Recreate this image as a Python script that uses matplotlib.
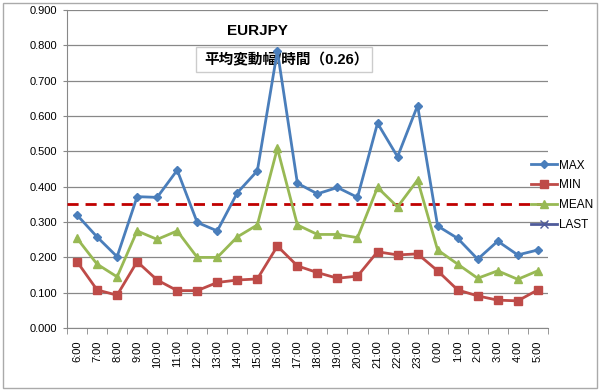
import matplotlib
matplotlib.use("Agg")
import matplotlib.pyplot as plt
from matplotlib.lines import Line2D
from matplotlib.patches import Rectangle

plt.rcParams["font.family"] = ["Liberation Sans", "Noto Sans CJK JP", "DejaVu Sans"]

# Data
hours = ["6:00", "7:00", "8:00", "9:00", "10:00", "11:00", "12:00", "13:00",
         "14:00", "15:00", "16:00", "17:00", "18:00", "19:00", "20:00", "21:00",
         "22:00", "23:00", "0:00", "1:00", "2:00", "3:00", "4:00", "5:00"]
max_vals = [0.320, 0.258, 0.202, 0.372, 0.370, 0.447, 0.299, 0.275,
            0.383, 0.445, 0.785, 0.410, 0.380, 0.398, 0.370, 0.580,
            0.485, 0.630, 0.289, 0.254, 0.195, 0.246, 0.207, 0.221]
min_vals = [0.188, 0.108, 0.093, 0.188, 0.136, 0.106, 0.106, 0.129,
            0.136, 0.139, 0.232, 0.176, 0.157, 0.141, 0.147, 0.216,
            0.207, 0.210, 0.162, 0.108, 0.091, 0.079, 0.077, 0.108]
mean_vals = [0.254, 0.181, 0.145, 0.275, 0.251, 0.275, 0.200, 0.200,
             0.258, 0.292, 0.509, 0.292, 0.265, 0.265, 0.256, 0.398,
             0.343, 0.419, 0.221, 0.181, 0.141, 0.162, 0.138, 0.162]
threshold = 0.35

fig = plt.figure(figsize=(6.0, 3.91), dpi=100)
ax = fig.add_axes([0.1117, 0.161, 0.8013, 0.813])

x = range(len(hours))
ax.plot(x, max_vals, color="#4A7EBB", lw=2, marker="D", ms=4, zorder=4)
ax.plot(x, min_vals, color="#BE4B48", lw=2, marker="s", ms=5.5, zorder=4)
ax.plot(x, mean_vals, color="#98B954", lw=2, marker="^", ms=6, zorder=4)
ax.axhline(threshold, xmin=0, xmax=0.985, color="#C00000", lw=2, ls=(0, (4, 2.5)), zorder=3)

ax.set_xlim(-0.5, len(hours) - 0.5)
ax.set_ylim(0, 0.9)
ax.set_yticks([i / 10 for i in range(10)])
ax.set_yticklabels([f"{i / 10:.3f}" for i in range(10)], fontsize=8)
ax.set_xticks(list(x))
ax.set_xticklabels(hours, rotation=90, fontsize=8)
ax.set_xticks([i - 0.5 for i in range(len(hours) + 1)], minor=True)
ax.tick_params(axis="x", which="major", length=0, pad=9)
ax.tick_params(axis="x", which="minor", length=4, color="#888888")
ax.tick_params(axis="y", length=3, color="#888888", pad=4)
ax.grid(axis="y", color="#888888", lw=0.9, zorder=0)
for side in ["top", "right"]:
    ax.spines[side].set_visible(False)
for side in ["left", "bottom"]:
    ax.spines[side].set_color("#888888")

# Title and annotation box (box sits under the data lines)
fig.text(257 / 600, 1 - 31 / 391, "EURJPY", fontsize=11, fontweight="bold",
         ha="center", va="center")
ax.add_patch(Rectangle((196 / 600, 1 - 72 / 391), 176 / 600, 25 / 391,
                       transform=fig.transFigure, facecolor="white",
                       edgecolor="#CCCCCC", lw=1, zorder=2, clip_on=False))
ax.text(204 / 600, 1 - 60 / 391, "平均変動幅/時間（0.26）", fontsize=10.5,
        fontweight="bold", ha="left", va="center", transform=fig.transFigure,
        zorder=2.5)

# Legend
handles = [
    Line2D([], [], color="#4A7EBB", lw=2, marker="D", ms=4),
    Line2D([], [], color="#BE4B48", lw=2, marker="s", ms=5.5),
    Line2D([], [], color="#98B954", lw=2, marker="^", ms=6),
    Line2D([], [], color="#4F5B9A", lw=2, marker="x", ms=6),
]
fig.legend(handles, ["MAX", "MIN", "MEAN", "LAST"], loc="upper left",
           bbox_to_anchor=(520 / 600, 1 - 149 / 391), frameon=False,
           fontsize=8.5, handlelength=2.2, handletextpad=0.2, labelspacing=0.65)

# Outer chart border
fig.patches.append(Rectangle((3 / 600, 3 / 391), 594 / 600, 385 / 391,
                             transform=fig.transFigure, facecolor="none",
                             edgecolor="#AAAAAA", lw=1))

fig.savefig("out.png", dpi=100)
